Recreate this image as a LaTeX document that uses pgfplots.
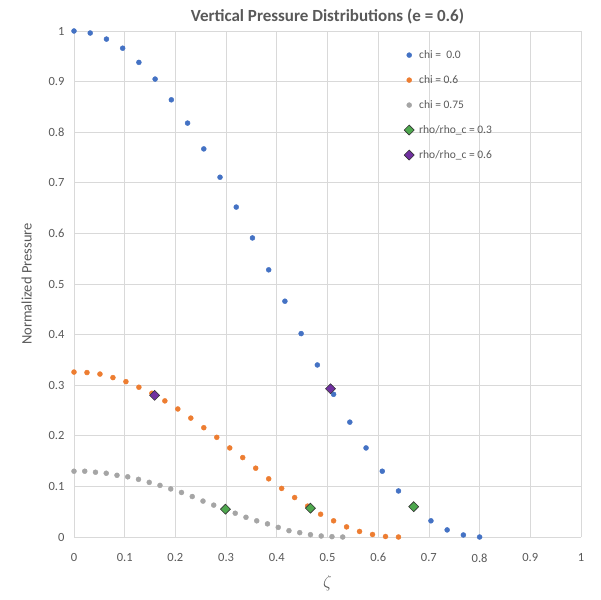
\documentclass[border=0pt]{standalone}
\usepackage{pgfplots}
\pgfplotsset{compat=1.18}
\usepackage{fontspec}
\setmainfont{Carlito}
\definecolor{xlblue}{HTML}{4472C4}
\definecolor{xlorange}{HTML}{ED7D31}
\definecolor{xlgray}{HTML}{A5A5A5}
\definecolor{xlgreen}{HTML}{4EA84E}
\definecolor{xlpurple}{HTML}{7030A0}
\definecolor{txt}{HTML}{595959}
\definecolor{gridc}{HTML}{D9D9D9}

% chi = 0.0
\pgfplotstableread{
x y
0 1.000
0.032 0.996
0.064 0.984
0.096 0.966
0.128 0.938
0.160 0.905
0.192 0.864
0.224 0.818
0.256 0.767
0.288 0.711
0.320 0.652
0.352 0.591
0.384 0.528
0.416 0.466
0.448 0.402
0.480 0.340
0.512 0.282
0.544 0.227
0.576 0.176
0.608 0.130
0.640 0.091
0.672 0.059
0.704 0.032
0.736 0.014
0.768 0.004
0.800 0.000
}\chizero

% chi = 0.6
\pgfplotstableread{
x y
0 0.326
0.0256 0.325
0.0512 0.322
0.0768 0.315
0.1024 0.307
0.1280 0.296
0.1536 0.284
0.1792 0.269
0.2048 0.253
0.2304 0.235
0.2560 0.216
0.2816 0.197
0.3072 0.176
0.3328 0.157
0.3584 0.136
0.3840 0.115
0.4096 0.096
0.4352 0.078
0.4608 0.061
0.4864 0.045
0.5120 0.032
0.5376 0.020
0.5632 0.011
0.5888 0.005
0.6144 0.001
0.6400 0.000
}\chisix

% chi = 0.75
\pgfplotstableread{
x y
0 0.130
0.0212 0.130
0.0424 0.128
0.0636 0.126
0.0848 0.122
0.1060 0.119
0.1272 0.114
0.1484 0.108
0.1696 0.102
0.1908 0.095
0.2120 0.088
0.2332 0.080
0.2544 0.071
0.2756 0.063
0.2968 0.055
0.3180 0.047
0.3392 0.039
0.3604 0.032
0.3816 0.026
0.4028 0.019
0.4240 0.0125
0.4452 0.0086
0.4664 0.0046
0.4876 0.002
0.5088 0.0007
0.5300 0.000
}\chiseven

\begin{document}
\begin{tikzpicture}
\useasboundingbox (-74pt,-62pt) rectangle (527pt,537pt);
\begin{axis}[
    scale only axis,
    width=507pt, height=506pt,
    xmin=0, xmax=1, ymin=0, ymax=1,
    xtick={0,0.1,...,1.01}, ytick={0,0.1,...,1.01},
    grid=major,
    major grid style={gridc, line width=0.8pt},
    axis line style={draw=none},
    tick style={draw=none},
    extra y ticks={0}, extra y tick labels={},
    extra y tick style={grid style={black!28, line width=0.9pt}},
    /pgf/number format/assume math mode=true,
    tick label style={font=\fontsize{12.5}{14}\selectfont, text=txt},
    xticklabel style={yshift=-13pt},
    yticklabel style={xshift=-6pt},
    xlabel={$\zeta$},
    xlabel style={font=\fontsize{17}{19}\selectfont, text=txt, yshift=-6pt},
    ylabel={Normalized Pressure},
    ylabel style={font=\fontsize{14.5}{16}\selectfont, text=txt, yshift=10pt},
    title={Vertical Pressure Distributions (e = 0.6)},
    title style={font=\fontsize{17}{19}\selectfont\bfseries, text=txt, yshift=-3pt},
    legend cell align=left,
    legend style={at={(rel axis cs:0.645,0.97)}, anchor=north west,
        draw=none, fill=none, row sep=11.5pt,
        font=\fontsize{11.5}{13}\selectfont, text=txt},
]
\addplot[only marks, mark=*, mark size=2.5pt, xlblue, mark options={draw=xlblue, fill=xlblue}]
    table {\chizero};
\addlegendentry{\hspace{3pt}chi =\ \ 0.0}
\addplot[only marks, mark=*, mark size=2.5pt, xlorange, mark options={draw=xlorange, fill=xlorange}]
    table {\chisix};
\addlegendentry{\hspace{3pt}chi = 0.6}
\addplot[only marks, mark=*, mark size=2.5pt, xlgray, mark options={draw=xlgray, fill=xlgray}]
    table {\chiseven};
\addlegendentry{\hspace{3pt}chi = 0.75}
\addplot[only marks, mark=diamond*, mark size=5pt, mark options={draw=black!80, fill=xlgreen, line width=0.6pt, xscale=1.33}]
    coordinates {(0.2987,0.055) (0.4664,0.057) (0.670,0.060)};
\addlegendentry{\hspace{3pt}rho/rho\_c = 0.3}
\addplot[only marks, mark=diamond*, mark size=5pt, mark options={draw=black!80, fill=xlpurple, line width=0.6pt, xscale=1.33}]
    coordinates {(0.159,0.280) (0.506,0.293)};
\addlegendentry{\hspace{3pt}rho/rho\_c = 0.6}
\end{axis}
\end{tikzpicture}
\end{document}
